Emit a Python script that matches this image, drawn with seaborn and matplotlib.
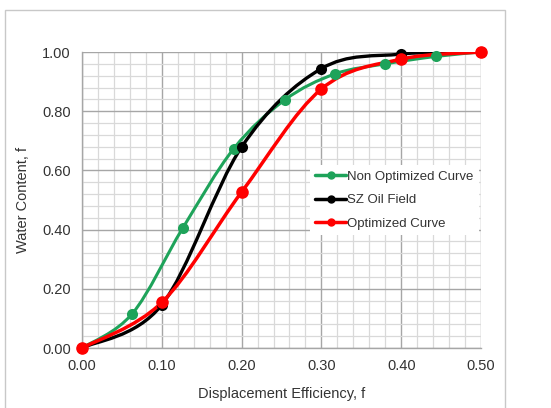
"""
Fractional flow curves: water content vs displacement efficiency for the
SZ oil field against the optimized and non optimized model curves.

Output: out.png
"""

import matplotlib

matplotlib.use("Agg")

import matplotlib.pyplot as plt
import numpy as np
import pandas as pd
import seaborn as sns
from matplotlib.lines import Line2D
from matplotlib.patches import PathPatch, Rectangle
from matplotlib.path import Path
from matplotlib.ticker import FormatStrFormatter, MultipleLocator

OUT_PATH = "out.png"

NON_OPT_X = [0.0, 0.063, 0.126, 0.190, 0.254, 0.317, 0.380, 0.443, 0.5]
NON_OPT_Y = [0.0, 0.116, 0.404, 0.673, 0.838, 0.926, 0.960, 0.985, 1.0]
FIELD_X = [0.0, 0.1, 0.2, 0.3, 0.4, 0.5]
FIELD_Y = [0.0, 0.146, 0.679, 0.944, 0.993, 1.0]
OPT_X = [0.0, 0.1, 0.2, 0.3, 0.4, 0.5]
OPT_Y = [0.0, 0.154, 0.527, 0.875, 0.976, 1.0]

SERIES = ["Non Optimized Curve", "SZ Oil Field", "Optimized Curve"]
COLORS = {"Non Optimized Curve": "#1ea35a", "SZ Oil Field": "#000000",
          "Optimized Curve": "#ff0000"}
MARKER_SIZE = {"Non Optimized Curve": 64, "SZ Oil Field": 64, "Optimized Curve": 82}
LINE_WIDTH = {"Non Optimized Curve": 2.2, "SZ Oil Field": 2.4, "Optimized Curve": 2.5}


def smooth_path(xs, ys):
    """Excel-style smoothed line: Bezier segments through the data points."""
    p = np.column_stack([xs, ys])
    ext = np.vstack([p[0], p, p[-1]])
    verts, codes = [p[0]], [Path.MOVETO]
    for i in range(len(p) - 1):
        c1 = ext[i + 1] + (ext[i + 2] - ext[i]) / 6
        c2 = ext[i + 2] - (ext[i + 3] - ext[i + 1]) / 6
        verts += [c1, c2, ext[i + 2]]
        codes += [Path.CURVE4] * 3
    return Path(verts, codes)


def main() -> None:
    df = pd.concat([
        pd.DataFrame({"x": NON_OPT_X, "y": NON_OPT_Y, "series": SERIES[0]}),
        pd.DataFrame({"x": FIELD_X, "y": FIELD_Y, "series": SERIES[1]}),
        pd.DataFrame({"x": OPT_X, "y": OPT_Y, "series": SERIES[2]}),
    ], ignore_index=True)

    sns.set_style("white")
    plt.rcParams["font.family"] = ["Liberation Sans", "DejaVu Sans"]

    fig = plt.figure(figsize=(5.51, 4.08), dpi=100)
    ax = fig.add_axes([0.1488, 0.147, 0.7242, 0.7255])

    for name in SERIES:
        sub = df[df["series"] == name]
        ax.add_patch(PathPatch(smooth_path(sub["x"], sub["y"]), fill=False,
                               edgecolor=COLORS[name], lw=LINE_WIDTH[name], zorder=3,
                               capstyle="round", joinstyle="round"))
        sns.scatterplot(data=sub, x="x", y="y", color=COLORS[name],
                        s=MARKER_SIZE[name], edgecolor=COLORS[name],
                        linewidth=0, zorder=4, ax=ax, legend=False, clip_on=False)

    ax.set_xlim(0, 0.5)
    ax.set_ylim(0, 1.0)
    ax.xaxis.set_major_locator(MultipleLocator(0.1))
    ax.xaxis.set_minor_locator(MultipleLocator(0.02))
    ax.yaxis.set_major_locator(MultipleLocator(0.2))
    ax.yaxis.set_minor_locator(MultipleLocator(0.04))
    ax.xaxis.set_major_formatter(FormatStrFormatter("%.2f"))
    ax.yaxis.set_major_formatter(FormatStrFormatter("%.2f"))
    ax.grid(which="minor", color="#d9d9d9", lw=0.9, zorder=0)
    ax.grid(which="major", color="#a6a6a6", lw=1.0, zorder=1)
    ax.set_axisbelow(True)
    for side in ["top", "right"]:
        ax.spines[side].set_visible(False)
    for side in ["left", "bottom"]:
        ax.spines[side].set_color("#a6a6a6")
        ax.spines[side].set_linewidth(1.0)
    ax.tick_params(which="major", direction="out", length=4, width=1,
                   color="#a6a6a6", labelsize=10.5, labelcolor="#333333", pad=4)
    ax.tick_params(which="minor", length=0)

    ax.set_xlabel("Displacement Efficiency, f", fontsize=10.5, color="#333333",
                  labelpad=10)
    ax.set_ylabel("Water Content, f", fontsize=10.5, color="#333333", labelpad=9)

    handles = [Line2D([], [], color=COLORS[n], lw=2.5, marker="o", ms=5) for n in SERIES]
    leg = ax.legend(handles, SERIES, loc="upper left", bbox_to_anchor=(0.555, 0.64),
                    frameon=True, fancybox=False, framealpha=1, facecolor="white",
                    edgecolor="none", fontsize=9.5, borderpad=0.4,
                    handlelength=2.3, handletextpad=0.1, labelspacing=0.85)
    leg.set_zorder(5)
    for t in leg.get_texts():
        t.set_color("#333333")

    fig.patches.append(Rectangle((5 / 551, -0.05), 500 / 551, 1.05 - 10 / 408,
                                 transform=fig.transFigure, fill=False,
                                 edgecolor="#c8c8c8", lw=1.0))

    fig.savefig(OUT_PATH, dpi=100)
    plt.close(fig)


if __name__ == "__main__":
    main()
